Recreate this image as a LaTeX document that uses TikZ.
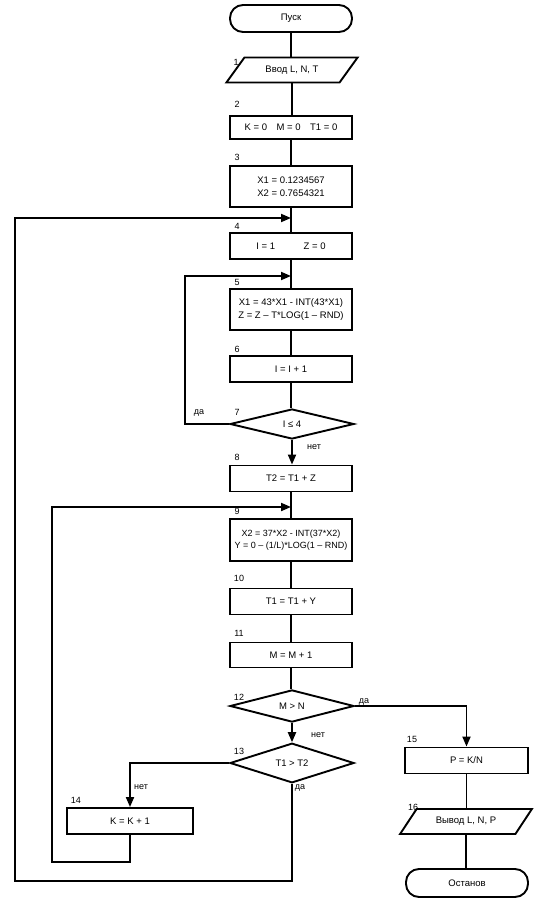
\documentclass[tikz,border=0pt]{standalone}
\usepackage{fontspec}
\setmainfont{Liberation Sans}
\usetikzlibrary{shapes.geometric,arrows.meta}
\begin{document}
\begin{tikzpicture}[x=1pt,y=-1pt,
  every node/.style={font=\fontsize{9.5}{12.5}\selectfont},
  blk/.style={draw,line width=1.9pt,minimum width=122pt,minimum height=26pt,inner sep=1pt,align=center},
  term/.style={blk,rounded corners=13pt,minimum height=27pt},
  iobox/.style={draw,line width=1.9pt,trapezium,trapezium left angle=45,trapezium right angle=135,
     trapezium stretches=true,minimum width=132pt,minimum height=25pt,inner sep=1pt},
  dec/.style={draw,line width=1.9pt,diamond,minimum width=124pt,minimum height=30pt,inner sep=0pt},
  lbl/.style={font=\fontsize{9}{10}\selectfont,inner sep=0pt},
  ln/.style={line width=1.9pt},
  arr/.style={ln,-{Triangle[length=10pt,width=8pt]}}]
\useasboundingbox (0,0) rectangle (543,902);
% nodes
\node[term] (start) at (291,18.5) {Пуск};
\node[iobox] (b1) at (292,70) {Ввод L, N, T};
\node[blk,minimum height=23pt] (b2) at (291,127.5) {K = 0\quad M = 0\quad T1 = 0};
\node[blk,minimum height=41pt] (b3) at (291,186.5) {X1 = 0.1234567\\X2 = 0.7654321};
\node[blk] (b4) at (291,246) {I = 1\qquad\quad Z = 0};
\node[blk,minimum height=41pt] (b5) at (291,309.5) {X1 = 43*X1 - INT(43*X1)\\Z = Z – T*LOG(1 – RND)};
\node[blk] (b6) at (291,369) {I = I + 1};
\node[dec] (d7) at (292,424) {I ≤ 4};
\node[blk] (b8) at (291,478.5) {T2 = T1 + Z};
\node[blk,minimum height=42pt,inner sep=0pt,font=\fontsize{9}{12.5}\selectfont] (b9) at (291,540) {X2 = 37*X2 - INT(37*X2)\\Y = 0 – (1/L)*LOG(1 – RND)};
\node[blk] (b10) at (291,601.5) {T1 = T1 + Y};
\node[blk,minimum height=25pt] (b11) at (291,655) {M = M + 1};
\node[dec] (d12) at (292,706) {M > N};
\node[dec] (d13) at (292,763) {T1 > T2};
\node[blk,minimum width=126pt] (b14) at (130,821) {K = K + 1};
\node[blk,minimum width=123pt] (b15) at (466.5,760.5) {P = K/N};
\node[iobox] (b16) at (466,821.5) {Вывод L, N, P};
\node[term,minimum height=28pt] (stop) at (467,883) {Останов};
% number labels
\node[lbl] (n1) at (236,62) {1};
\node[lbl] (n2) at (237,104) {2};
\node[lbl] (n3) at (237,157) {3};
\node[lbl] (n4) at (237,226) {4};
\node[lbl] (n5) at (237,282) {5};
\node[lbl] (n6) at (237,349) {6};
\node[lbl] (n7) at (237,412) {7};
\node[lbl] (n8) at (237,457) {8};
\node[lbl] (n9) at (237,511) {9};
\node[lbl] (n10) at (239,578) {10};
\node[lbl] (n11) at (239,633) {11};
\node[lbl] (n12) at (239,697) {12};
\node[lbl] (n13) at (239,751) {13};
\node[lbl] (n14) at (76,800) {14};
\node[lbl] (n15) at (412,739) {15};
\node[lbl] (n16) at (413,807) {16};
% branch labels
\node[lbl] (y7) at (199,413) {да};
\node[lbl] (no7) at (314,447) {нет};
\node[lbl] (y12) at (364,702) {да};
\node[lbl] (no12) at (318,735) {нет};
\node[lbl] (no13) at (141,787) {нет};
\node[lbl] (y13) at (300,788) {да};
% junction coordinates
\coordinate (m1) at (291,218);
\coordinate (m2) at (291,276);
\coordinate (m3) at (291,507);
\coordinate (lo) at (15,881);
\coordinate (li) at (185,276);
\coordinate (lm) at (52,862);
% main flow
\draw[ln] (start) -- (start.south |- b1.north);
\draw[ln] (b1.south) -- (b1.south |- b2.north);
\draw[ln] (b2) -- (b3);
\draw[ln] (b3) -- (b4);
\draw[ln] (b4) -- (b5);
\draw[ln] (b5) -- (b6);
\draw[ln] (b6.south) -- (b6.south |- d7.north);
\draw[arr] (d7.south) -- (d7.south |- b8.north);
\draw[ln] (b8) -- (b9);
\draw[ln] (b9) -- (b10);
\draw[ln] (b10) -- (b11);
\draw[ln] (b11.south) -- (b11.south |- d12.north);
\draw[arr] (d12) -- (d13);
\draw[arr] (d12.east) -| (b15.north);
\draw[ln] (b15.south) -- (b15.south |- b16.north);
\draw[ln] (b16.south) -- (b16.south |- stop.north);
\draw[arr] (d13.west) -| (b14.north);
% loops
\draw[arr] (d7.west) -| (li) -- (m2);
\draw[arr] (b14.south) |- (lm) |- (m3);
\draw[arr] (d13.south) |- (lo) |- (m1);
\end{tikzpicture}
\end{document}
